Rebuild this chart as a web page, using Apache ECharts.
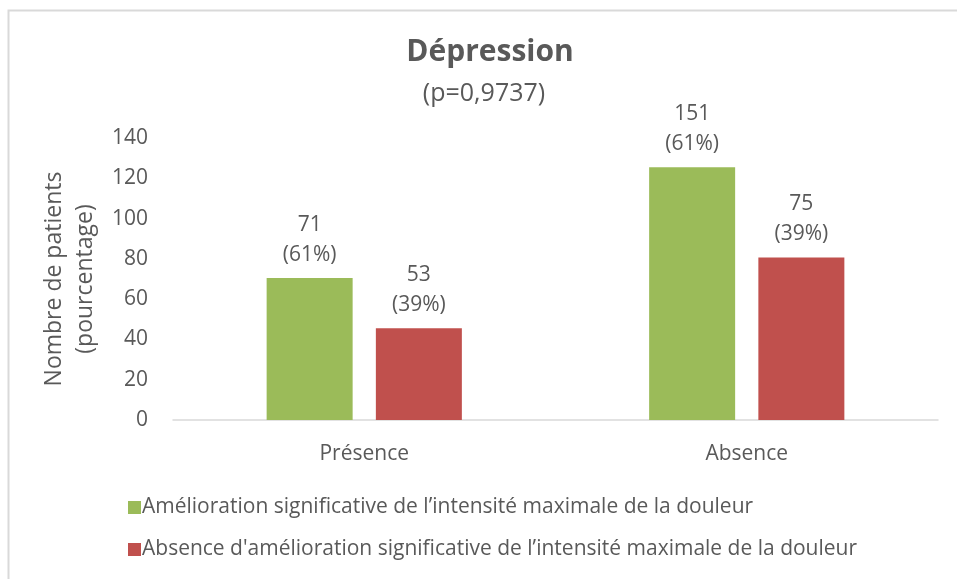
<!DOCTYPE html>
<html>
<head>
<meta charset="utf-8">
<script src="https://cdn.jsdelivr.net/npm/echarts@6/dist/echarts.min.js"></script>
<style>
html,body{margin:0;padding:0;background:#fff;}
#chart{width:957px;height:579px;}
</style>
</head>
<body>
<div id="chart"></div>
<script>
var categories = ['Présence', 'Absence'];
var seriesNames = [
  'Amélioration significative de l\u2019intensité maximale de la douleur',
  'Absence d\'amélioration significative de l\u2019intensité maximale de la douleur'
];
var improvedValues = [70.5, 125.5];
var notImprovedValues = [45.6, 80.7];
var improvedCounts = ['71', '151'];
var improvedPcts = ['(61%)', '(61%)'];
var notImprovedCounts = ['53', '75'];
var notImprovedPcts = ['(39%)', '(39%)'];
var yTicks = [0, 20, 40, 60, 80, 100, 120, 140];

var FONT = '"Open Sans", Lato, sans-serif';
var TXT = '#595959';

var chart = echarts.init(document.getElementById('chart'));
chart.setOption({
  backgroundColor: '#fff',
  animation: false,
  textStyle: {fontFamily: FONT, color: TXT},
  graphic: [{
    type: 'rect', left: 6, top: 8, shape: {x: 0, y: 0, width: 1000, height: 1000},
    style: {fill: 'none', stroke: '#d9d9d9', lineWidth: 2}, silent: true
  }],
  title: [{
    text: 'Dépression', left: 485, top: 32, textAlign: 'center',
    textStyle: {fontFamily: FONT, fontSize: 30, fontWeight: 'bold', color: TXT}
  }, {
    text: '(p=0,9737)', left: 479, top: 76, textAlign: 'center',
    textStyle: {fontFamily: FONT, fontSize: 25, fontWeight: 'normal', color: TXT}
  }],
  legend: {
    orient: 'vertical', left: 123, top: 492, itemWidth: 13, itemHeight: 13, itemGap: 21,
    icon: 'rect', data: seriesNames,
    textStyle: {fontFamily: FONT, fontSize: 21, color: TXT, padding: [0, 0, 0, -4]}
  },
  grid: {left: 173, right: 19, top: 138, bottom: 159, containLabel: false},
  xAxis: {
    type: 'category', data: categories,
    axisLine: {lineStyle: {color: '#d9d9d9', width: 1.5}},
    axisTick: {show: false},
    axisLabel: {fontFamily: FONT, fontSize: 21, color: TXT, margin: 24}
  },
  yAxis: {
    type: 'value', min: yTicks[0], max: yTicks[yTicks.length - 1], interval: 20,
    name: 'Nombre de patients\n(pourcentage)', nameLocation: 'middle', nameRotate: 90, nameGap: 65,
    nameTextStyle: {fontFamily: FONT, fontSize: 23, color: TXT, lineHeight: 31},
    axisLine: {show: false}, axisTick: {show: false},
    splitLine: {show: false},
    axisLabel: {fontFamily: FONT, fontSize: 21, color: TXT, margin: 25}
  },
  series: [{
    name: seriesNames[0], type: 'bar', data: improvedValues,
    barWidth: 86, barGap: '27%',
    itemStyle: {color: '#9bbb59'},
    label: {
      show: true, position: 'top', distance: 8, fontFamily: FONT, fontSize: 21, color: TXT, lineHeight: 30,
      formatter: function (p) { return improvedCounts[p.dataIndex] + '\n' + improvedPcts[p.dataIndex]; }
    }
  }, {
    name: seriesNames[1], type: 'bar', data: notImprovedValues,
    barWidth: 86,
    itemStyle: {color: '#c0504d'},
    label: {
      show: true, position: 'top', distance: 8, fontFamily: FONT, fontSize: 21, color: TXT, lineHeight: 30,
      formatter: function (p) { return notImprovedCounts[p.dataIndex] + '\n' + notImprovedPcts[p.dataIndex]; }
    }
  }]
});
</script>
</body>
</html>
